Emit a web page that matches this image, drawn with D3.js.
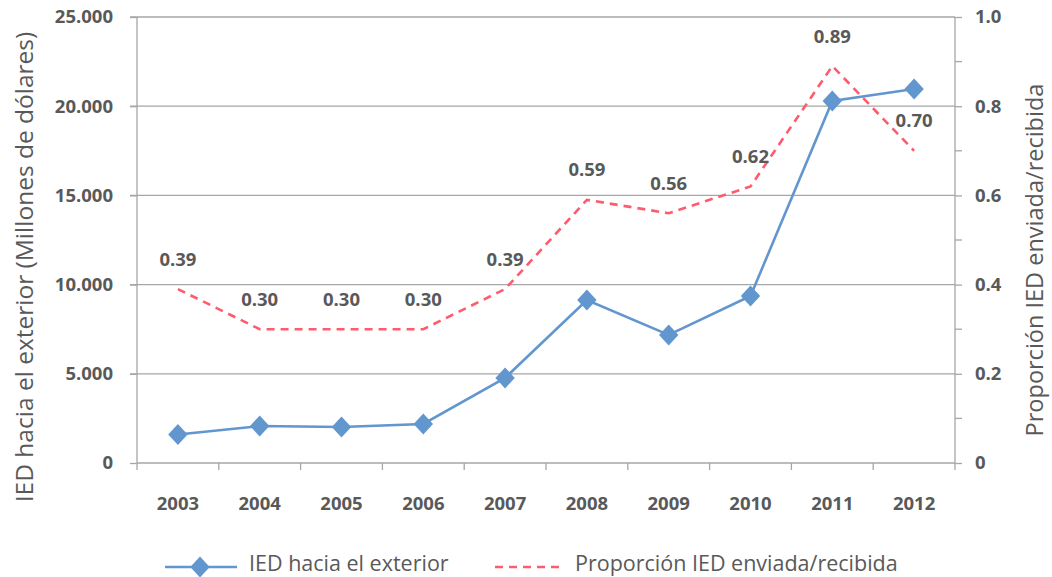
<!DOCTYPE html>
<html>
<head>
<meta charset="utf-8">
<script src="https://cdn.jsdelivr.net/npm/d3@7"></script>
<style>
  html, body { margin: 0; padding: 0; background: #fff; }
  svg { display: block; }
  text { font-family: "Open Sans", "Noto Sans", sans-serif; }
</style>
</head>
<body>
<svg id="chart" width="1052" height="577"></svg>
<script>
// Years on the category axis
const years = ["2003", "2004", "2005", "2006", "2007", "2008", "2009", "2010", "2011", "2012"];
// Outward FDI, millions of dollars (left axis)
const iedExterior = [1600, 2070, 2020, 2190, 4770, 9140, 7180, 9360, 20290, 20960];
// Ratio of FDI sent to FDI received (right axis)
const proporcion = [0.39, 0.30, 0.30, 0.30, 0.39, 0.59, 0.56, 0.62, 0.89, 0.70];
// Tick values
const leftTicks = [0, 5000, 10000, 15000, 20000, 25000];
const rightTicks = [0, 0.2, 0.4, 0.6, 0.8, 1.0];
const rightMinorTicks = [0.1, 0.3, 0.5, 0.7, 0.9];

const svg = d3.select("#chart");
const plot = { left: 137, right: 955, top: 17, bottom: 463 };

const blue = "#6296CF";
const red = "#FF5B6E";
const grid = "#A6A6A6";
const textCol = "#595959";
const numSize = 18.5;

const x = d3.scaleBand().domain(years).range([plot.left, plot.right]);
const yL = d3.scaleLinear().domain([0, 25000]).range([plot.bottom, plot.top]);
const yR = d3.scaleLinear().domain([0, 1]).range([plot.bottom, plot.top]);
const cx = d => x(d) + x.bandwidth() / 2;

const fmtThousands = d => d === 0 ? "0" : d3.format(",")(d).replace(/,/g, ".");

// Horizontal gridlines
svg.append("g")
  .selectAll("line")
  .data(leftTicks.filter(d => d > 0))
  .join("line")
  .attr("x1", plot.left - 7).attr("x2", plot.right)
  .attr("y1", d => yL(d)).attr("y2", d => yL(d))
  .attr("stroke", grid).attr("stroke-width", 1.3);

function styleTickText(g) {
  g.selectAll(".tick text").attr("fill", textCol).attr("font-size", numSize).attr("font-weight", 700)
    .style("font-family", '"Open Sans", sans-serif');
}

// Left axis
const gL = svg.append("g").attr("transform", `translate(${plot.left},0)`)
  .call(d3.axisLeft(yL).tickValues(leftTicks).tickFormat(fmtThousands).tickSize(7).tickPadding(17));
gL.select(".domain").attr("stroke", grid).attr("stroke-width", 1.3)
  .attr("d", `M0,${plot.top}V${plot.bottom + 7}`);
gL.selectAll(".tick line").attr("stroke", grid).attr("stroke-width", 1.3);
styleTickText(gL);

// Right axis
const gR = svg.append("g").attr("transform", `translate(${plot.right},0)`)
  .call(d3.axisRight(yR).tickValues(rightTicks)
    .tickFormat(d => d === 0 ? "0" : d3.format(".1f")(d)).tickSize(7).tickPadding(13));
gR.select(".domain").attr("stroke", grid).attr("stroke-width", 1.3)
  .attr("d", `M0,${plot.top}V${plot.bottom + 7}`);
gR.selectAll(".tick line").attr("stroke", grid).attr("stroke-width", 1.3);
styleTickText(gR);
gR.append("g").selectAll("line").data(rightMinorTicks).join("line")
  .attr("x1", 0).attr("x2", 7)
  .attr("y1", d => yR(d)).attr("y2", d => yR(d))
  .attr("stroke", grid).attr("stroke-width", 1.3);

// Bottom axis
const gB = svg.append("g").attr("transform", `translate(0,${plot.bottom})`)
  .call(d3.axisBottom(x).tickSize(0).tickPadding(34));
gB.select(".domain").attr("stroke", grid).attr("stroke-width", 1.3)
  .attr("d", `M${plot.left},0H${plot.right}`);
styleTickText(gB);
gB.append("g").selectAll("line")
  .data(years.slice(1))
  .join("line")
  .attr("x1", d => x(d)).attr("x2", d => x(d))
  .attr("y1", 0).attr("y2", 7)
  .attr("stroke", grid).attr("stroke-width", 1.3);

// Ratio line (dashed)
const lineR = d3.line().x((d, i) => cx(years[i])).y(d => yR(d));
svg.append("path").datum(proporcion)
  .attr("d", lineR).attr("fill", "none")
  .attr("stroke", red).attr("stroke-width", 2.6)
  .attr("stroke-dasharray", "8,6");

// Ratio labels
svg.append("g").selectAll("text").data(proporcion).join("text")
  .attr("x", (d, i) => cx(years[i]))
  .attr("y", d => yR(d) - 30)
  .attr("dy", "0.35em")
  .attr("text-anchor", "middle")
  .attr("fill", textCol).attr("font-size", numSize).attr("font-weight", 700)
  .text(d => d3.format(".2f")(d));

// Outward FDI line with diamond markers
const lineL = d3.line().x((d, i) => cx(years[i])).y(d => yL(d));
svg.append("path").datum(iedExterior)
  .attr("d", lineL).attr("fill", "none")
  .attr("stroke", blue).attr("stroke-width", 2.6);

const diamond = d3.symbol().type(d3.symbolDiamond2).size(240);
svg.append("g").selectAll("path").data(iedExterior).join("path")
  .attr("d", diamond)
  .attr("transform", (d, i) => `translate(${cx(years[i])},${yL(d)}) scale(1,1.08)`)
  .attr("fill", blue);

// Axis titles
svg.append("text")
  .attr("transform", "translate(33,267) rotate(-90)")
  .attr("text-anchor", "middle")
  .attr("fill", textCol).attr("font-size", 24.5)
  .text("IED hacia el exterior (Millones de dólares)");

svg.append("text")
  .attr("transform", "translate(1043,260) rotate(-90)")
  .attr("text-anchor", "middle")
  .attr("fill", textCol).attr("font-size", 23.5)
  .text("Proporción IED enviada/recibida");

// Legend
const legY = 567;
const leg = svg.append("g");
leg.append("line").attr("x1", 165).attr("x2", 237).attr("y1", legY).attr("y2", legY)
  .attr("stroke", blue).attr("stroke-width", 2.6);
leg.append("path").attr("d", diamond).attr("transform", `translate(200,${legY}) scale(1,1.08)`).attr("fill", blue);
leg.append("text").attr("x", 249).attr("y", 571)
  .attr("fill", textCol).attr("font-size", 21.5).text("IED hacia el exterior");
leg.append("line").attr("x1", 495).attr("x2", 565).attr("y1", legY).attr("y2", legY)
  .attr("stroke", red).attr("stroke-width", 2.6).attr("stroke-dasharray", "8,6");
leg.append("text").attr("x", 575).attr("y", 571)
  .attr("fill", textCol).attr("font-size", 21.5).text("Proporción IED enviada/recibida");
</script>
</body>
</html>
